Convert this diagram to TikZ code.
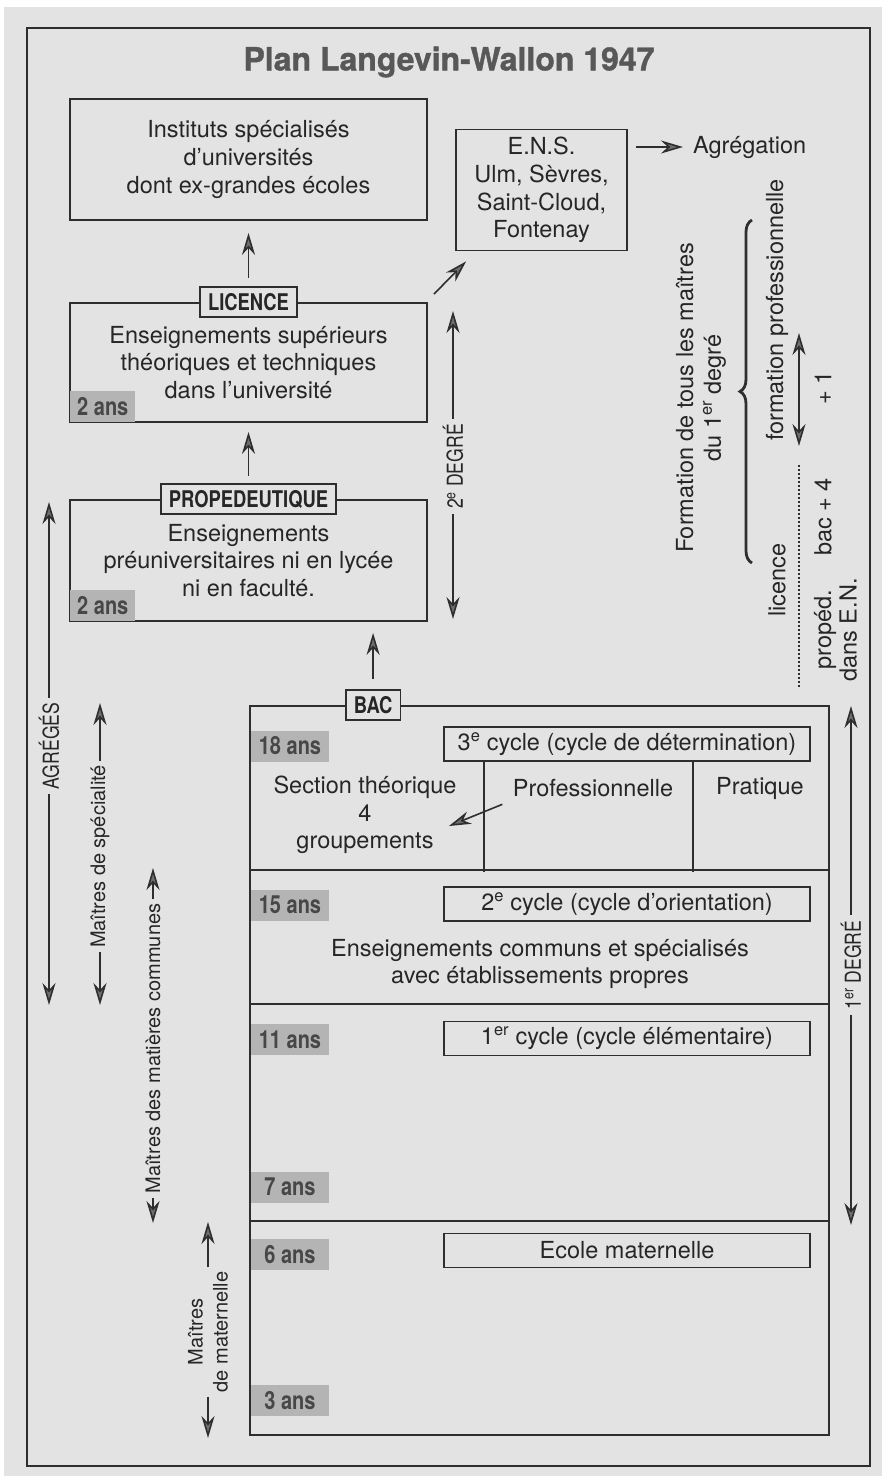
\documentclass[tikz,border=0pt]{standalone}
\usepackage{fontspec}
\setmainfont{TeX Gyre Heros}
\newfontfamily\condfont[FakeStretch=0.8]{TeX Gyre Heros}
\newfontfamily\titrefont[FakeBold=1.2]{TeX Gyre Heros}
\usetikzlibrary{arrows.meta,positioning,calc,decorations.pathreplacing}
\definecolor{fond}{HTML}{E3E3E3}
\definecolor{gristrait}{HTML}{2E2E2E}
\definecolor{gristete}{HTML}{6E6E6E}
\definecolor{encre}{HTML}{262626}
\definecolor{gristag}{HTML}{B4B4B4}
\definecolor{titregris}{HTML}{585858}
\newcommand{\corps}{\fontsize{23.5}{27.6}\selectfont}
\newcommand{\petit}{\fontsize{20}{25}\selectfont}
\tikzset{pointe/.tip={Stealth[length=22pt,width=13pt,inset=7pt,fill=gristete]}}

\begin{document}
\begin{tikzpicture}[x=1pt,y=-1pt,
  every node/.style={font=\corps, text=encre},
  cadre/.style={draw=gristrait, line width=1.8pt, inner sep=0pt, align=center},
  bloc/.style={cadre, minimum width=357pt, minimum height=121pt},
  cycle/.style={cadre, minimum width=366pt, minimum height=34pt},
  etiq/.style={cadre, fill=fond, minimum height=30pt, inner xsep=8pt,
    font=\condfont\bfseries\fontsize{23}{23}\selectfont},
  age/.style={fill=gristag, minimum height=31pt, inner sep=0pt, text=encre!85,
    font=\condfont\bfseries\fontsize{25}{25}\selectfont},
  cote/.style={rotate=90, inner sep=5pt, font=\condfont\fontsize{22}{22}\selectfont},
  lateral/.style={rotate=90, inner sep=4pt, align=center, font=\petit},
  fleche/.style={draw=gristrait, line width=1.6pt, -pointe},
  fleches/.style={draw=gristrait, line width=1.6pt, pointe-pointe},
  trait/.style={draw=gristrait, line width=1.8pt},
  accolade/.style={draw=gristrait, line width=2.8pt, decorate,
    decoration={brace, amplitude=12pt}}]

% fond et cadre general
\fill[white] (0,0) rectangle (882,1476);
\fill[fond] (4,7) rectangle (882,1476);
\useasboundingbox (0,0) rectangle (882,1476);
\node[cadre, minimum width=843pt, minimum height=1438pt] (planche) at (448.5,747) {};

\node[font=\titrefont\bfseries\fontsize{32}{32}\selectfont, text=titregris] (titre) at (449,62) {Plan Langevin-Wallon 1947};

% enseignement superieur
\node[bloc] (instituts) at (248.5,159.5) {Instituts spécialisés\\d’universités\\dont ex-grandes écoles};
\node[cadre, minimum width=171pt, minimum height=121pt] (ens) at (541.5,190) {E.N.S.\\Ulm, Sèvres,\\Saint-Cloud,\\Fontenay};
\node[anchor=west, inner sep=0pt] (agreg) at (693,147) {Agrégation};

\node[bloc, minimum height=119pt] (licence) at (248.5,362.5) {Enseignements supérieurs\\théoriques et techniques\\dans l’université};
\node[etiq] (licence-lab) at (licence.north) {LICENCE};
\node[age, minimum width=65pt, anchor=south west] at ([shift={(1,-1)}]licence.south west) {2 ans};

\node[bloc] (prope) at (248.5,560.5) {Enseignements\\préuniversitaires ni en lycée\\ni en faculté.};
\node[etiq] (prope-lab) at (prope.north) {PROPEDEUTIQUE};
\node[age, minimum width=65pt, anchor=south west] at ([shift={(1,-1)}]prope.south west) {2 ans};

\draw[fleche, shorten <=8pt, shorten >=12pt] (licence-lab) -- (instituts);
\draw[fleche, shorten <=7pt, shorten >=9pt] (prope-lab) -- (licence);
\draw[fleche] ([shift={(6,-8)}]licence.north east) -- ([shift={(11,10)}]ens.south west);
\draw[fleche, shorten <=8pt, shorten >=10pt] (ens.east |- agreg.west) -- (agreg.west);

% 2e degre
\node[cote] (degre2) at (453,466.5) {2\textsuperscript{e} DEGRÉ};
\coordinate (degre2-haut) at (453,311);
\coordinate (degre2-bas) at (453,619);
\draw[fleche] (degre2.east) -- (degre2-haut);
\draw[fleche] (degre2.west) -- (degre2-bas);

% enseignement du premier degre
\node[cadre, minimum width=579pt, minimum height=729pt] (primaire) at (539.5,1070.5) {};
\foreach \y in {870,1004,1221}
  \draw[trait] (primaire.west |- 0,\y) -- (primaire.east |- 0,\y);
\node[etiq] (bac) at ([shift={(124,0)}]primaire.north west) {BAC};
\draw[fleche, shorten <=10pt, shorten >=11pt] (bac) -- (bac |- prope.south);

\node[cycle] (cycle3) at (627,744) {3\textsuperscript{e} cycle (cycle de détermination)};
\draw[trait] ([xshift=41pt]cycle3.south west) -- ++(0,110);
\draw[trait] ([xshift=250pt]cycle3.south west) -- ++(0,110);
\node[align=center] (theorique) at (365,815) {Section théorique\\4\\groupements};
\node (pro) at (593,788) {Professionnelle};
\node (pratique) at (760,788) {Pratique};
\draw[fleche] ([shift={(-7,4)}]pro.south west) -- ([shift={(-11,11)}]theorique.east);

\node[cycle] (cycle2) at (627,904) {2\textsuperscript{e} cycle (cycle d’orientation)};
\node[align=center] (communs) at (540,964) {Enseignements communs et spécialisés\\avec établissements propres};
\node[cycle] (cycle1) at (627,1038.5) {1\textsuperscript{er} cycle (cycle élémentaire)};
\node[cycle] (maternelle) at (627,1250.5) {Ecole maternelle};

\foreach \an/\y in {18/746,15/905,11/1039.5,7/1187,6/1254.5,3/1400.5}
  \node[age, minimum width=78pt] (age\an) at (290,\y) {\an{} ans};

% 1er degre
\node[cote] (degre1) at (851,965) {1\textsuperscript{er} DEGRÉ};
\coordinate (degre1-haut) at (851,706);
\coordinate (degre1-bas) at (851,1225);
\draw[fleche] (degre1.east) -- (degre1-haut);
\draw[fleche] (degre1.west) -- (degre1-bas);

% maitres, a gauche
\node[cote] (agreges) at (49,746) {AGRÉGÉS};
\coordinate (agreges-haut) at (49,502);
\coordinate (agreges-bas) at (49,1005);
\draw[fleche] (agreges.east) -- (agreges-haut);
\draw[fleche] (agreges.west) -- (agreges-bas);

\node[lateral] (specialite) at (100,856.5) {Maîtres de spécialité};
\coordinate (specialite-haut) at (100,703);
\coordinate (specialite-bas) at (100,1005);
\draw[fleche] (specialite.east) -- (specialite-haut);
\draw[fleche] (specialite.west) -- (specialite-bas);

\node[lateral] (communes) at (153,1048.5) {Maîtres des matières communes};
\coordinate (communes-haut) at (153,868);
\coordinate (communes-bas) at (153,1223);
\draw[fleche] (communes.east) -- (communes-haut);
\draw[fleche] (communes.west) -- (communes-bas);

\node[lateral] (mat) at (208,1332) {Maîtres\\de maternelle};
\coordinate (mat-haut) at (208,1222);
\coordinate (mat-bas) at (208,1438);
\draw[fleche] (mat.east) -- (mat-haut);
\draw[fleche] (mat.west) -- (mat-bas);

% formation des maitres du 1er degre
\node[rotate=90, align=center] (formation) at (701,398) {Formation de tous les maîtres\\du 1\textsuperscript{er} degré};
\coordinate (acc-haut) at (752,220);
\coordinate (acc-bas) at (752,563);
\draw[accolade] (acc-bas) -- (acc-haut);
\node[rotate=90] (formpro) at (777,310) {formation professionnelle};
\node[rotate=90] (lic) at (777,580) {licence};
\coordinate (plus-haut) at (799,333);
\coordinate (plus-bas) at (799,446);
\draw[fleches] (plus-haut) -- (plus-bas);
\node[rotate=90] (plusun) at (823,388) {+ 1};
\coordinate (pointill-haut) at (799,465);
\coordinate (pointill-bas) at (799,687);
\draw[gristrait, line width=1.2pt, dash pattern=on 2pt off 2pt] (pointill-haut) -- (pointill-bas);
\node[rotate=90] (bacquatre) at (823,517) {bac + 4};
\node[rotate=90, align=center, font=\fontsize{23.5}{25.5}\selectfont] (proped) at (835.5,630) {propéd.\\dans E.N.};
\end{tikzpicture}
\end{document}
